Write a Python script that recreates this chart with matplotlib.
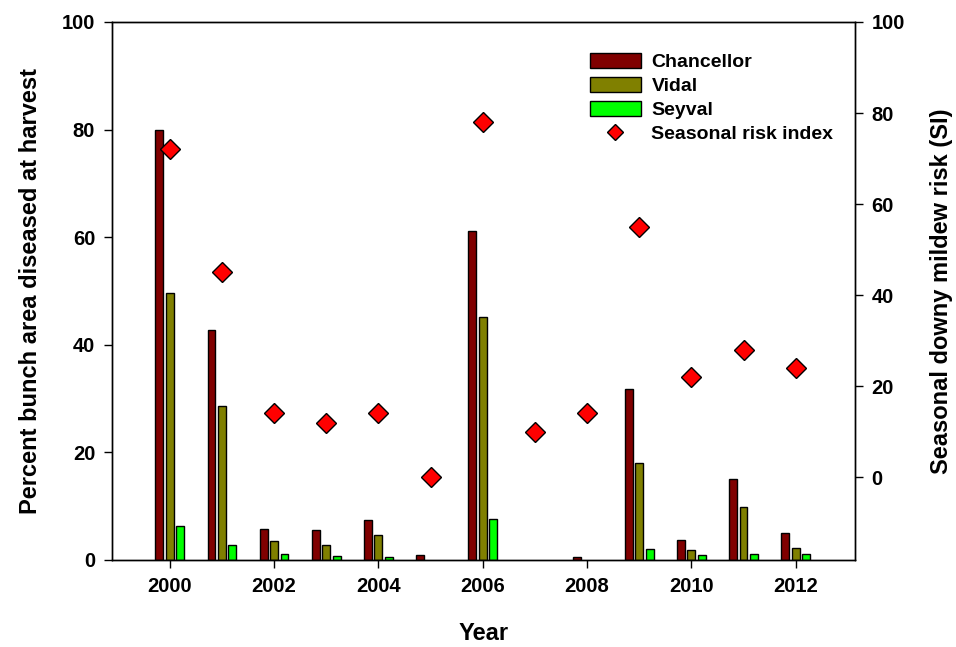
import numpy as np
import matplotlib
matplotlib.use("Agg")
import matplotlib.pyplot as plt

plt.rcParams['font.family'] = ['Liberation Sans', 'DejaVu Sans']
plt.rcParams['font.weight'] = 'bold'

years = [2000, 2001, 2002, 2003, 2004, 2005, 2006, 2007, 2008, 2009, 2010, 2011, 2012]
chancellor = [79.9, 42.7, 5.8, 5.5, 7.5, 0.95, 61.1, 0.0, 0.55, 31.7, 3.7, 15.0, 5.1]
vidal = [49.6, 28.7, 3.6, 2.8, 4.7, 0.0, 45.1, 0.0, 0.0, 18.0, 1.9, 9.8, 2.2]
seyval = [6.3, 2.75, 1.15, 0.75, 0.6, 0.0, 7.6, 0.0, 0.0, 2.0, 0.85, 1.05, 1.05]
risk_index = [72, 45, 14, 12, 14, 0, 78, 10, 14, 55, 22, 28, 24]
xticks = [2000, 2002, 2004, 2006, 2008, 2010, 2012]

x = np.array(years)
w = 0.15
off = 0.2

fig = plt.figure(figsize=(9.56, 6.47), dpi=100)
ax = fig.add_axes([0.117, 0.1345, 0.777, 0.8315])

bar_kw = dict(width=w, edgecolor='black', linewidth=1.0)
b1 = ax.bar(x - off, chancellor, color='#800000', label='Chancellor', **bar_kw)
b2 = ax.bar(x, vidal, color='#808000', label='Vidal', **bar_kw)
b3 = ax.bar(x + off, seyval, color='#00ff00', label='Seyval', **bar_kw)
# hide zero-height bars (no data)
for bars in (b1, b2, b3):
    for r in bars:
        if r.get_height() == 0:
            r.set_visible(False)

ax.set_xlim(1998.89, 2013.13)
ax.set_ylim(0, 100)
ax.set_xticks(xticks)
ax.set_yticks(range(0, 101, 20))
ax.tick_params(direction='out', length=6, width=1, labelsize=14.5, pad=6)
for lab in ax.get_xticklabels() + ax.get_yticklabels():
    lab.set_fontweight('bold')
ax.set_xlabel('Year', fontsize=17, fontweight='bold', labelpad=19)
ax.set_ylabel('Percent bunch area diseased at harvest', fontsize=17,
              fontweight='bold', labelpad=14)

ax2 = ax.twinx()
d = ax2.plot(x, risk_index, linestyle='none', marker='D', markersize=10,
             markerfacecolor='#ff0000', markeredgecolor='black',
             markeredgewidth=1.0, label='Seasonal risk index')
ax2.set_ylim(-18.2, 100)
ax2.set_yticks(range(0, 101, 20))
ax2.tick_params(direction='out', length=6, width=1, labelsize=14.5, pad=6)
for lab in ax2.get_yticklabels():
    lab.set_fontweight('bold')
ax2.set_ylabel('Seasonal downy mildew risk (SI)', fontsize=17,
               fontweight='bold', labelpad=18)

for a in (ax, ax2):
    for s in a.spines.values():
        s.set_linewidth(1.0)

handles = [b1, b2, b3, d[0]]
labels = ['Chancellor', 'Vidal', 'Seyval', 'Seasonal risk index']
leg = ax2.legend(handles, labels, loc='upper right', bbox_to_anchor=(0.995, 0.975),
                 frameon=False, prop={'weight': 'bold', 'size': 14},
                 handlelength=2.6, handleheight=0.8, handletextpad=0.55,
                 labelspacing=0.3, markerscale=0.85)

fig.savefig('out.png', dpi=100)
